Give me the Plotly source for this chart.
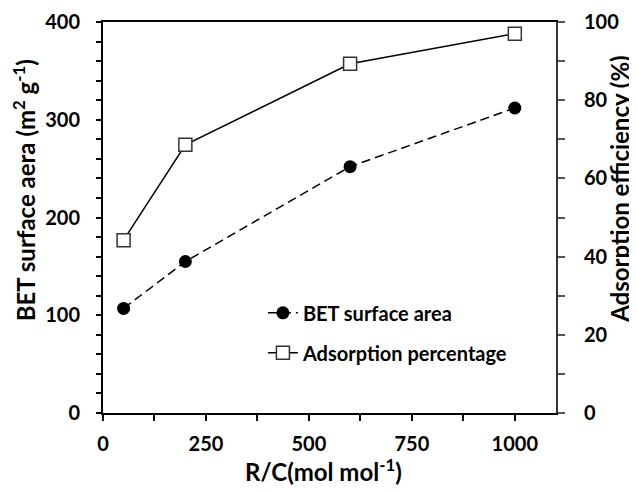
import plotly.graph_objects as go

rc = [50, 200, 600, 1000]
bet_area = [107, 155, 252, 312]
adsorption_pct = [44.2, 68.6, 89.3, 97.0]

FONT = "Lato"
fig = go.Figure()
fig.add_trace(go.Scatter(
    x=rc, y=bet_area, name="BET surface area", mode="lines+markers",
    line=dict(color="black", width=1.5, dash="9px,5px"),
    marker=dict(symbol="circle", size=13, color="black"),
    legendgroup="a", yaxis="y"))
fig.add_trace(go.Scatter(
    x=rc, y=adsorption_pct, name="Adsorption percentage", mode="lines+markers",
    line=dict(color="black", width=1.5),
    marker=dict(symbol="square", size=13, color="white",
                line=dict(color="#333333", width=1.5)),
    legendgroup="b", yaxis="y2"))

tf = dict(family=FONT, size=20, color="black", weight="bold")
title_font = dict(family=FONT, size=24, color="black", weight="bold")
fig.update_layout(
    width=629, height=485,
    margin=dict(l=95, r=81, t=14, b=80, autoexpand=False),
    plot_bgcolor="white", paper_bgcolor="white",
    showlegend=True,
    legend=dict(x=0.353, y=0.306, xanchor="left", yanchor="top",
                bgcolor="rgba(0,0,0,0)", traceorder="grouped",
                tracegroupgap=11,
                font=dict(family=FONT, size=20, color="black", weight="bold")),
    xaxis=dict(range=[0, 1100], tickvals=[0, 250, 500, 750, 1000],
               ticks="outside", ticklen=6, tickwidth=1.5, tickcolor="black",
               minor=dict(dtick=125, tick0=0, ticks="outside", ticklen=6,
                          tickwidth=1.5, tickcolor="black"),
               showline=True, linecolor="black", linewidth=2, mirror=True,
               showgrid=False, zeroline=False, tickfont=tf,
               ticklabelstandoff=6, automargin=False),
    yaxis=dict(range=[0, 400], tickvals=[0, 100, 200, 300, 400],
               ticks="outside", ticklen=5, tickwidth=1.5, tickcolor="black",
               minor=dict(dtick=20, tick0=0, ticks="outside", ticklen=5,
                          tickwidth=1.5, tickcolor="black"),
               showline=True, linecolor="black", linewidth=2, mirror=True,
               showgrid=False, zeroline=False, tickfont=tf,
               ticklabelstandoff=12, automargin=False),
    yaxis2=dict(range=[0, 100], tickvals=[0, 20, 40, 60, 80, 100],
                overlaying="y", side="right",
                ticks="outside", ticklen=7, tickwidth=1.5, tickcolor="#555555",
                minor=dict(dtick=10, tick0=0, ticks="outside", ticklen=7,
                           tickwidth=1.5, tickcolor="#555555"),
                showline=True, linecolor="#333333", linewidth=2,
                showgrid=False, zeroline=False, tickfont=tf,
                ticklabelstandoff=15, automargin=False),
)

fig.add_annotation(text="BET surface aera (m<sup>2</sup> g<sup>-1</sup>)",
                   xref="paper", yref="paper", x=-0.174, y=0.570,
                   xanchor="center", yanchor="middle", textangle=-90,
                   showarrow=False, font=title_font)
fig.add_annotation(text="Adsorption efficiency (%)",
                   xref="paper", yref="paper", x=1.141, y=0.573,
                   xanchor="center", yanchor="middle", textangle=-90,
                   showarrow=False, font=title_font)
fig.add_annotation(text="R/C(mol mol<sup>-1</sup>)",
                   xref="paper", yref="paper", x=0.486, y=-0.146,
                   xanchor="center", yanchor="middle",
                   showarrow=False, font=title_font)

fig.write_html("out.html")
